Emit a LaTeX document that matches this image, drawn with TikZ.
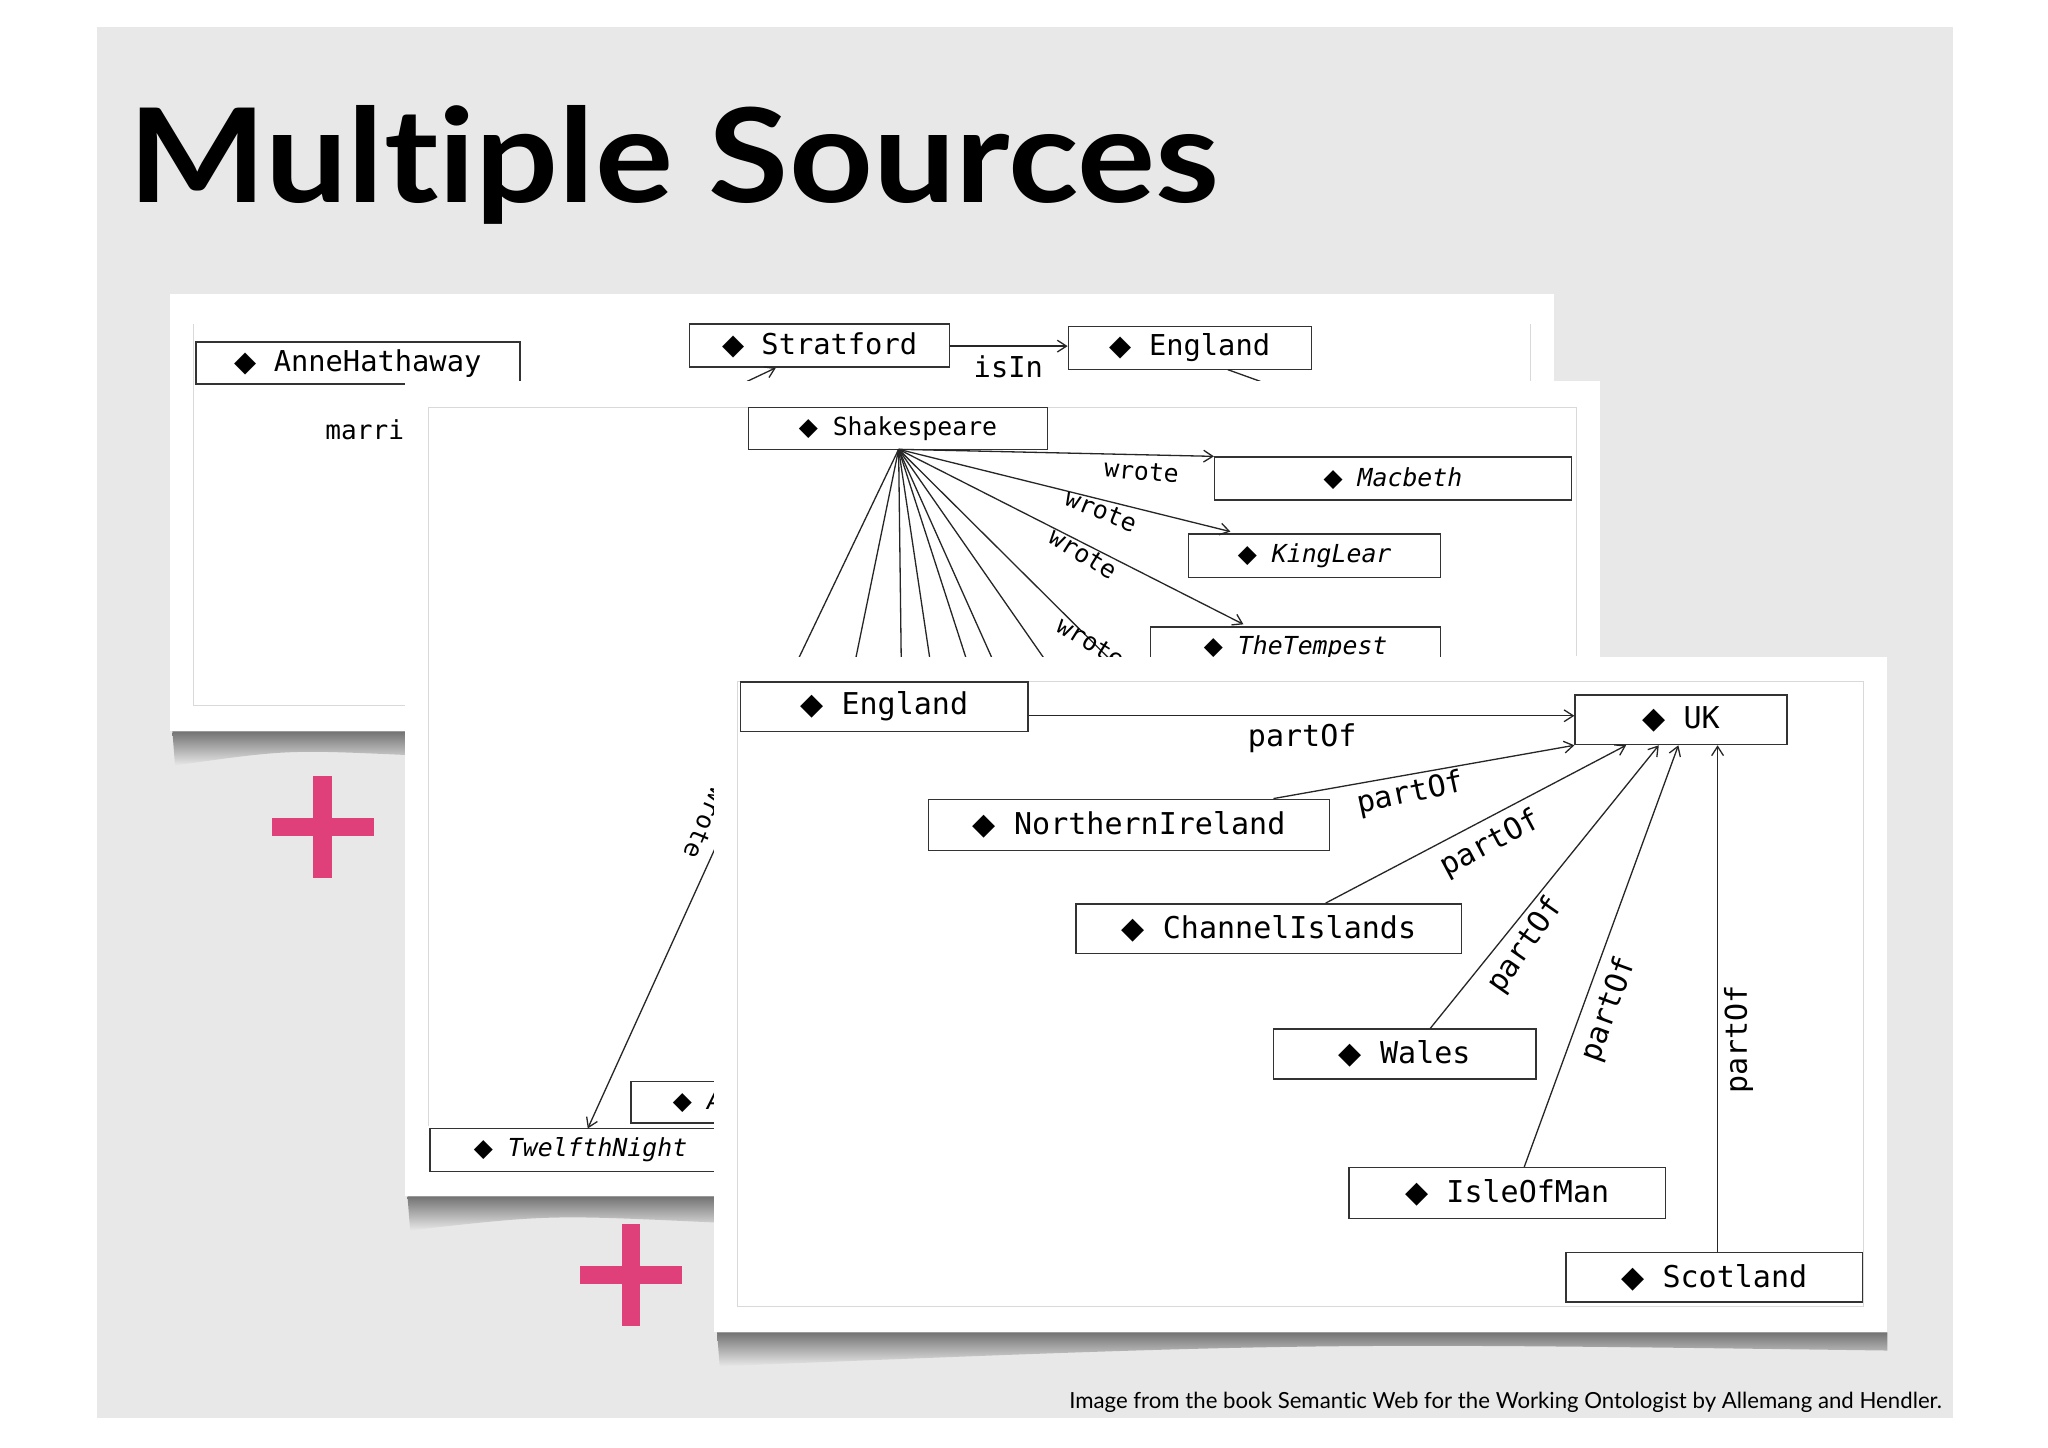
\documentclass[tikz,border=0pt]{standalone}
\usepackage{fontspec}
\setmainfont[Ligatures=NoCommon]{Lato}
\newfontfamily\mono{DejaVu Sans Mono}
\newfontfamily\djv{DejaVu Sans}
\newfontfamily\titlefont[Ligatures=NoCommon]{Lato}
\usetikzlibrary{arrows.meta}
\newcommand{\dia}{{\djv\char"25C6}}
\definecolor{slide}{HTML}{E8E8E9}
\definecolor{pinkc}{HTML}{E0407A}
\tikzset{
 panel/.style={fill=white,draw=none},
 shad/.style={top color=black!55,bottom color=slide,draw=none},
 frame/.style={draw=black!15,line width=0.8pt},
 bx/.style={draw=black!80,line width=1.2pt,inner sep=0pt,font=\mono},
 edge/.style={draw=black!85,line width=1pt},
 arr/.style={edge,-{Straight Barb[length=7pt,width=9pt]}},
 lab/.style={font=\mono,inner sep=0pt},
}
\newcommand{\bx}[7][]{\node[bx,#1,minimum width=#4-#2,minimum height=#5-#3] (#6) at ({(#2+#4)/2},{(#3+#5)/2}) {#7};}
\begin{document}
\begin{tikzpicture}[x=1pt,y=-1pt]
\useasboundingbox (0,0) rectangle (1568,1108);
\fill[white] (0,0) rectangle (1568,1108);
\fill[slide] (74,21) rectangle (1495,1086);
\node[anchor=base west,inner sep=0pt,xscale=1.12,font=\titlefont\fontsize{100}{100}\selectfont\bfseries] (title) at (98,155) {Multiple Sources};
% panel 1
\shade[shad] (132,560) -- (310,560) -- (310,578) .. controls (220,574) .. (134,586) -- cycle;
\fill[panel] (130,225) rectangle (1190,560);
\draw[frame] (148,248) -- (148,540) -- (310,540);
\draw[frame] (1172,248) -- (1172,292);
\bx[font=\mono\fontsize{22}{24}\selectfont]{150}{262}{398}{294}{annebox}{\dia\ AnneHathaway}
\bx[font=\mono\fontsize{22}{24}\selectfont]{528}{248}{727}{281}{strat}{\dia\ Stratford}
\bx[font=\mono\fontsize{22}{24}\selectfont]{818}{250}{1004}{283}{eng1}{\dia\ England}
\draw[arr] (strat.east|-0,265) -- (eng1.west|-0,265);
\node[lab,font=\mono\fontsize{22}{24}\selectfont] (isin) at (772,281) {isIn};
\node[lab,font=\mono\fontsize{20}{22}\selectfont,anchor=west] (marr) at (249,329) {marri};
\coordinate (s1) at (572,292); \coordinate (s2) at (940,283); \coordinate (s3) at (965,292);
\draw[arr] (s1) -- (strat.south-|594,0);
\draw[edge] (s2) -- (s3);
% panel 2
\shade[shad] (312,916) -- (548,916) -- (548,936) .. controls (420,930) .. (314,942) -- cycle;
\fill[panel] (310,292) rectangle (1225,916);
\draw[frame] (328,312) -- (328,862);
\draw[frame] (328,312) -- (1207,312) -- (1207,502);
\bx[font=\mono\fontsize{19}{21}\selectfont]{573}{312}{802}{344}{shak}{\dia\ Shakespeare}
\bx[font=\mono\itshape\fontsize{19}{21}\selectfont]{930}{350}{1203}{383}{macb}{\dia\ Macbeth}
\bx[font=\mono\itshape\fontsize{19}{21}\selectfont]{910}{409}{1103}{442}{lear}{\dia\ KingLear}
\bx[font=\mono\itshape\fontsize{19}{21}\selectfont]{881}{480}{1103}{512}{temp}{\dia\ TheTempest}
\bx[font=\mono\itshape\fontsize{19}{21}\selectfont]{329}{864}{560}{897}{twelfth}{\dia\ TwelfthNight}
\bx[font=\mono\itshape\fontsize{19}{21}\selectfont]{483}{828}{585}{860}{abox}{\dia\ A}
\coordinate (sb) at (688,344);
\draw[arr] (sb) -- (macb.north west);
\draw[arr] (sb) -- (942,407);
\draw[arr] (sb) -- (952,478);
\foreach \x [count=\i] in {611,655,690,712,740,760,800,850}{\coordinate (d\i) at (\x,505); \draw[edge] (sb) -- (d\i);}
\node[lab,font=\mono\fontsize{19}{21}\selectfont,rotate=-5] (w1) at (874,361) {wrote};
\node[lab,font=\mono\fontsize{19}{21}\selectfont,rotate=-22] (w2) at (843,391) {wrote};
\node[lab,font=\mono\fontsize{19}{21}\selectfont,rotate=-32] (w3) at (829,424) {wrote};
\node[lab,font=\mono\fontsize{19}{21}\selectfont,rotate=-32] (w4) at (835,492) {wrote};
\coordinate (tw0) at (560,622);
\draw[arr] (tw0) -- (450,864);
\node[lab,font=\mono\fontsize{19}{21}\selectfont,rotate=-113] (w5) at (540,630) {wrote};
% panel 3
\shade[shad] (549,1020) -- (1445,1020) -- (1445,1034) .. controls (1000,1028) .. (551,1046) -- cycle;
\fill[panel] (547,503) rectangle (1445,1020);
\draw[frame] (565,522) rectangle (1427,1000);
\begin{scope}
\def\f{\mono\fontsize{23}{25}\selectfont}
\bx[font=\f]{567}{522}{787}{560}{eng}{\dia\ England}
\bx[font=\f]{1206}{532}{1368}{570}{uk}{\dia\ UK}
\bx[font=\f]{711}{612}{1018}{651}{ni}{\dia\ NorthernIreland}
\bx[font=\f]{824}{692}{1119}{730}{ci}{\dia\ ChannelIslands}
\bx[font=\f]{975}{788}{1176}{826}{wales}{\dia\ Wales}
\bx[font=\f]{1033}{894}{1275}{933}{iom}{\dia\ IsleOfMan}
\bx[font=\f]{1199}{959}{1426}{997}{scot}{\dia\ Scotland}
\draw[arr] (eng.east|-0,548) -- (uk.west|-0,548);
\draw[arr] (ni.north-|975,0) -- (uk.south west);
\draw[arr] (ci.north-|1015,0) -- (uk.south-|1245,0);
\draw[arr] (wales.north-|1095,0) -- (uk.south-|1270,0);
\draw[arr] (iom.north-|1167,0) -- (uk.south-|1285,0);
\draw[arr] (scot.north-|1315,0) -- (uk.south-|1315,0);
\node[lab,font=\f] (p1) at (997,565) {partOf};
\node[lab,font=\f,rotate=12] (p2) at (1080,608) {partOf};
\node[lab,font=\f,rotate=28] (p3) at (1141,646) {partOf};
\node[lab,font=\f,rotate=55] (p4) at (1168,724) {partOf};
\node[lab,font=\f,rotate=70] (p5) at (1232,773) {partOf};
\node[lab,font=\f,rotate=90] (p6) at (1331,796) {partOf};
\end{scope}
% plus signs
\fill[pinkc] (208,626) rectangle (286,640); \fill[pinkc] (240,594) rectangle (254,672);
\fill[pinkc] (444,969) rectangle (522,983); \fill[pinkc] (476,937) rectangle (490,1015);
\node[anchor=base east,inner sep=0pt,font=\fontsize{17}{19}\selectfont] (cap) at (1487,1078) {Image from the book Semantic Web for the Working Ontologist by Allemang and Hendler.};
\end{tikzpicture}
\end{document}
